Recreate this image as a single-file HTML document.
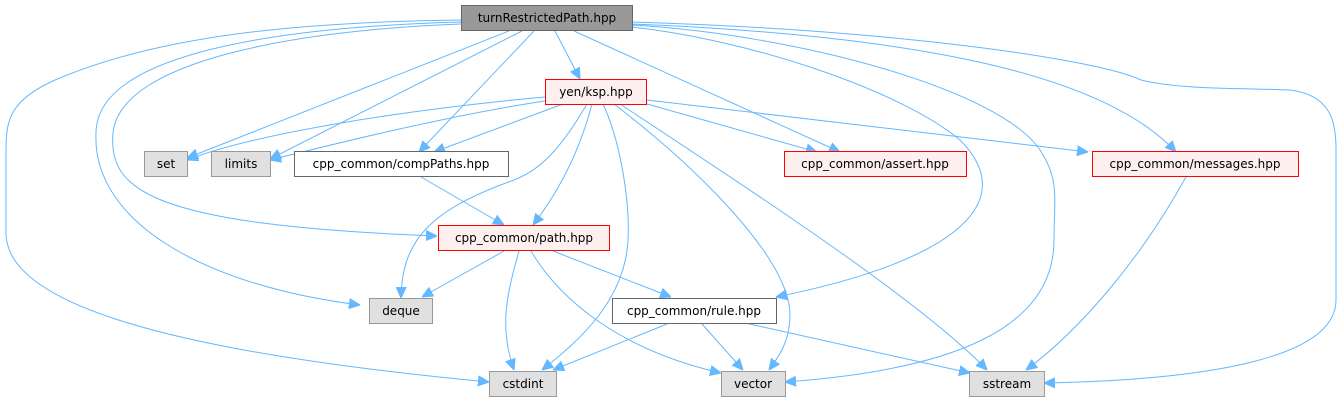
<!DOCTYPE html>
<html><head><meta charset="utf-8"><style>
html,body{margin:0;padding:0;background:#fff;}
svg{display:block;}
text{font-family:"DejaVu Sans","Liberation Sans",sans-serif;font-size:12px;fill:#000;}
.e{fill:none;stroke:#63b8ff;stroke-width:1;}
</style></head><body>
<svg width="1341" height="403" viewBox="0 0 1341 403" xmlns="http://www.w3.org/2000/svg">
<defs>
<marker id="a" viewBox="0 0 10 10" refX="10" refY="5" markerWidth="11" markerHeight="11" markerUnits="userSpaceOnUse" orient="auto">
<path d="M0,0.5 L10,5 L0,9.5 z" fill="#63b8ff" stroke="#63b8ff"/>
</marker>
</defs>
<g marker-end="url(#a)">
<path class="e" d="M555,31 L580,79"/>
<path class="e" d="M509,31 L187,158"/>
<path class="e" d="M522,31 L270,159"/>
<path class="e" d="M534,31 L419,152"/>
<path class="e" d="M574,31 L840,152"/>
<path class="e" d="M461,24 C300,30 120,60 113,133 C108,190 150,225 437,236"/>
<path class="e" d="M461,22 C250,28 96,60 96,133 C92,220 200,285 360,305"/>
<path class="e" d="M461,20 C300,22 160,35 55,80 C10,100 6,120 6,150 L6,233 C6,300 150,350 489,382"/>
<path class="e" d="M632,27 C750,40 900,90 960,140 C1020,200 960,260 776,297"/>
<path class="e" d="M632,25 C800,35 1000,90 1040,150 C1060,180 1054,200 1054,240 C1054,330 950,370 785,382"/>
<path class="e" d="M632,24 C900,35 1100,70 1176,152"/>
<path class="e" d="M632,22 C900,30 1100,60 1141,80 C1180,90 1250,88 1290,90 C1330,95 1336,120 1336,150 L1336,300 C1336,360 1200,380 1044,383"/>
<path class="e" d="M545,97 C400,110 250,135 187,160"/>
<path class="e" d="M545,101 C450,115 330,145 270,160"/>
<path class="e" d="M563,104 L434,152"/>
<path class="e" d="M592,104 C580,150 560,190 533,225"/>
<path class="e" d="M587,104 C560,150 540,170 514,180 C430,210 402,240 401,298"/>
<path class="e" d="M603,104 C620,140 630,200 628,240 C625,300 580,340 542,370"/>
<path class="e" d="M647,104 L817,152"/>
<path class="e" d="M647,100 L1088,152"/>
<path class="e" d="M614,104 C700,170 790,260 790,315 C790,340 780,355 769,370"/>
<path class="e" d="M620,104 C750,190 920,300 987,370"/>
<path class="e" d="M421,177 L504,225"/>
<path class="e" d="M504,251 L422,297"/>
<path class="e" d="M519,251 C505,300 500,330 514,370"/>
<path class="e" d="M531,251 C560,300 620,350 721,373"/>
<path class="e" d="M553,251 L671,297"/>
<path class="e" d="M667,324 L553,370"/>
<path class="e" d="M702,324 L743,370"/>
<path class="e" d="M745,323 L970,373"/>
<path class="e" d="M1186,177 C1140,260 1080,330 1026,370"/>
</g>
<rect x="461.5" y="5.5" width="171" height="25" fill="#999" stroke="#666"/>
<text x="547" y="22" text-anchor="middle">turnRestrictedPath.hpp</text>
<rect x="545.5" y="79.5" width="101" height="25" fill="#fff0f0" stroke="#f00"/>
<text x="596" y="96" text-anchor="middle">yen/ksp.hpp</text>
<rect x="144.5" y="151.5" width="43" height="25" fill="#e0e0e0" stroke="#999"/>
<text x="166" y="168" text-anchor="middle">set</text>
<rect x="211.5" y="151.5" width="59" height="25" fill="#e0e0e0" stroke="#999"/>
<text x="241" y="168" text-anchor="middle">limits</text>
<rect x="294.5" y="151.5" width="214" height="25" fill="#fff" stroke="#666"/>
<text x="401" y="168" text-anchor="middle">cpp_common/compPaths.hpp</text>
<rect x="784.5" y="151.5" width="182" height="25" fill="#fff0f0" stroke="#f00"/>
<text x="875" y="168" text-anchor="middle">cpp_common/assert.hpp</text>
<rect x="1092.5" y="151.5" width="206" height="25" fill="#fff0f0" stroke="#f00"/>
<text x="1195" y="168" text-anchor="middle">cpp_common/messages.hpp</text>
<rect x="438.5" y="225.5" width="171" height="25" fill="#fff0f0" stroke="#f00"/>
<text x="524" y="242" text-anchor="middle">cpp_common/path.hpp</text>
<rect x="369.5" y="298.5" width="63" height="25" fill="#e0e0e0" stroke="#999"/>
<text x="401" y="315" text-anchor="middle">deque</text>
<rect x="612.5" y="298.5" width="164" height="25" fill="#fff" stroke="#666"/>
<text x="694" y="315" text-anchor="middle">cpp_common/rule.hpp</text>
<rect x="489.5" y="371.5" width="67" height="25" fill="#e0e0e0" stroke="#999"/>
<text x="523" y="388" text-anchor="middle">cstdint</text>
<rect x="721.5" y="371.5" width="64" height="25" fill="#e0e0e0" stroke="#999"/>
<text x="753" y="388" text-anchor="middle">vector</text>
<rect x="969.5" y="371.5" width="75" height="25" fill="#e0e0e0" stroke="#999"/>
<text x="1007" y="388" text-anchor="middle">sstream</text>
</svg>
</body></html>
